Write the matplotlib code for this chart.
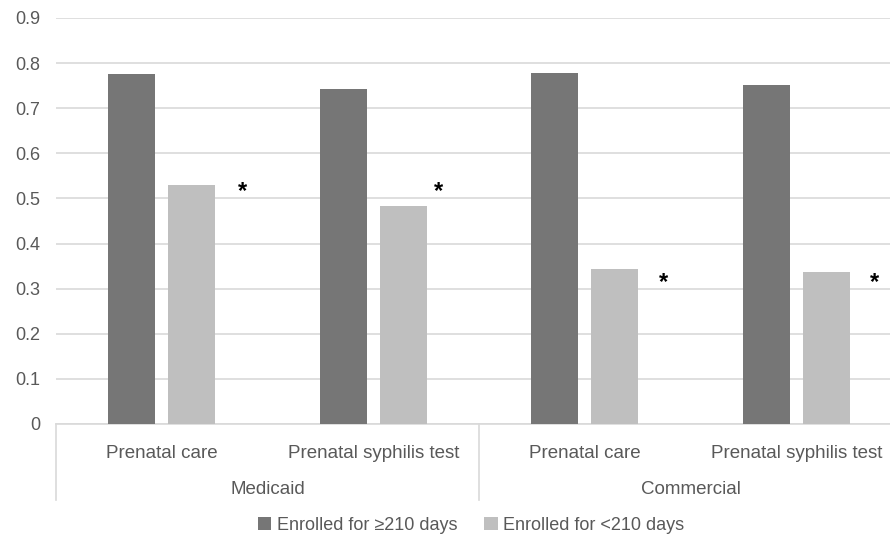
import matplotlib.pyplot as plt
import numpy as np

plt.rcParams['font.family'] = ['Liberation Sans', 'DejaVu Sans']

# data
categories = ['Prenatal care', 'Prenatal syphilis test', 'Prenatal care', 'Prenatal syphilis test']
groups = ['Medicaid', 'Commercial']
long_enroll = [0.775, 0.743, 0.777, 0.752]
short_enroll = [0.530, 0.483, 0.344, 0.337]
series_names = ['Enrolled for \u2265210 days', 'Enrolled for <210 days']
# significance markers (x offset from category centre, y value)
star_dx = [0.383, 0.31, 0.37, 0.369]
star_y = [0.515, 0.515, 0.314, 0.314]

dark = '#767676'
light = '#bfbfbf'
txt = '#595959'
gridc = '#d9d9d9'

fig = plt.figure(figsize=(8.9, 5.44), dpi=100)
ax = fig.add_axes([56 / 890, 1 - 424 / 544, 1 - 56 / 890, 406 / 544])

x = np.arange(len(categories))
w = 0.222
ax.bar(x - 0.142, long_enroll, w, color=dark, zorder=3, label=series_names[0])
ax.bar(x + 0.142, short_enroll, w, color=light, zorder=3, label=series_names[1])

for i in range(len(categories)):
    ax.text(x[i] + star_dx[i], star_y[i], '*', ha='center', va='center',
            fontsize=17, fontweight='bold', color='black', zorder=4)

ax.set_ylim(0, 0.9)
ax.set_yticks(np.arange(0, 0.91, 0.1))
ax.set_yticklabels(['0'] + ['%.1f' % v for v in np.arange(0.1, 0.91, 0.1)])
ax.set_xlim(-0.5, 3.5 - 12 / 211.5)
ax.yaxis.grid(True, color=gridc, linewidth=1.2, zorder=0)
ax.set_axisbelow(True)

for s in ['top', 'right', 'left']:
    ax.spines[s].set_visible(False)
ax.spines['bottom'].set_color(gridc)
ax.spines['bottom'].set_linewidth(1.2)

ax.tick_params(axis='y', length=0, pad=11.5, labelsize=13, labelcolor=txt)
ax.set_xticks(x)
ax.set_xticklabels(categories)
ax.tick_params(axis='x', length=0, pad=15, labelsize=13.5, labelcolor=txt)

trans = ax.get_xaxis_transform()
for xs in [-0.5, 1.5]:
    ax.plot([xs, xs], [0, -76 / 406], color=gridc, linewidth=1.2,
            transform=trans, clip_on=False)
for gi, g in enumerate(groups):
    ax.text(0.5 + 2 * gi, -65 / 406, g, transform=trans, ha='center', va='center',
            fontsize=13.5, color=txt)

fig.legend(loc='center', bbox_to_anchor=(471 / 890, 1 - 525 / 544), ncol=2, frameon=False,
           fontsize=13, labelcolor=txt, handlelength=0.75, handleheight=0.75,
           handletextpad=0.3, columnspacing=1.5)

fig.savefig('out.png', dpi=100)
